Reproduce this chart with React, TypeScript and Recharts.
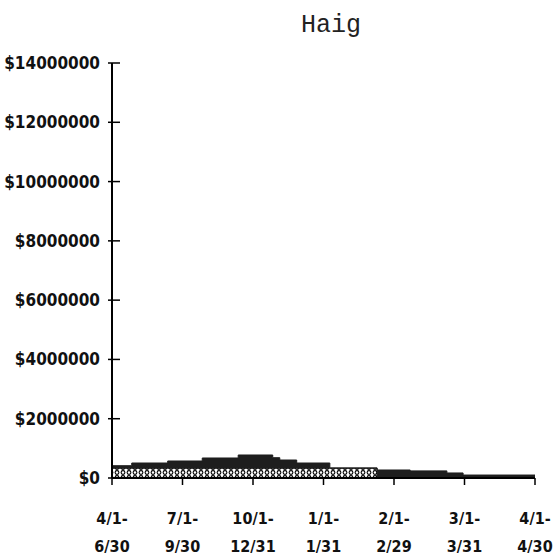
import { AreaChart, Area, XAxis, YAxis } from "recharts";

// step positions along the period axis (0 = 4/1-6/30 ... 6 = 4/1-4/30)
const stepPos = [0, 0.28, 0.79, 1.28, 1.79, 2.28, 2.38, 2.62, 3.09, 3.76, 4.23, 4.75, 4.98, 6];
// lower, dotted series
const dotted = [330000, 330000, 330000, 330000, 330000, 330000, 330000, 330000, 330000, 0, 0, 0, 0, 0];
// upper, dark series
const dark = [85000, 176000, 244000, 345000, 446000, 355000, 277000, 176000, 10000, 270000, 240000, 170000, 100000, 100000];

const periodTop = ["4/1-", "7/1-", "10/1-", "1/1-", "2/1-", "3/1-", "4/1-"];
const periodBottom = ["6/30", "9/30", "12/31", "1/31", "2/29", "3/31", "4/30"];
const yTicks = [0, 2000000, 4000000, 6000000, 8000000, 10000000, 12000000, 14000000];

const data = stepPos.map((x, i) => ({ x, dotted: dotted[i], dark: dark[i] }));

const labelFont = "'DejaVu Sans Condensed', 'DejaVu Sans', sans-serif";

const YTick = (props: any) => {
  const { x, y, payload } = props;
  return (
    <g>
      <line x1={x + 4} x2={x + 16} y1={y} y2={y} stroke="#000" strokeWidth={1.5} />
      <text
        x={x - 4}
        y={y}
        textAnchor="end"
        dominantBaseline="central"
        fontFamily={labelFont}
        fontWeight="bold"
        fontSize={17}
        fill="#111"
      >
        ${payload.value}
      </text>
    </g>
  );
};

const XTick = (props: any) => {
  const { x, y, payload } = props;
  const i = Math.round(payload.value);
  return (
    <g>
      <line x1={x} x2={x} y1={y - 8} y2={y - 1} stroke="#000" strokeWidth={1.5} />
      <text
        x={x}
        y={y + 38}
        textAnchor="middle"
        fontFamily={labelFont}
        fontWeight="bold"
        fontSize={16}
        fill="#111"
      >
        {periodTop[i]}
      </text>
      <text
        x={x}
        y={y + 66}
        textAnchor="middle"
        fontFamily={labelFont}
        fontWeight="bold"
        fontSize={16}
        fill="#111"
      >
        {periodBottom[i]}
      </text>
    </g>
  );
};

export default function App() {
  return (
    <div style={{ position: "absolute", left: 0, top: 0, width: 555, height: 556, background: "#fff" }}>
      <div
        style={{
          position: "absolute",
          left: 0,
          width: 662,
          top: 11,
          textAlign: "center",
          fontFamily: "'Liberation Mono', 'DejaVu Sans Mono', monospace",
          fontSize: 25,
          color: "#222",
        }}
      >
        Haig
      </div>
      <AreaChart
        width={555}
        height={556}
        data={data}
        margin={{ top: 63, right: 20, bottom: 0, left: 0 }}
      >
        <defs>
          <pattern id="dots" width="6" height="5" patternUnits="userSpaceOnUse">
            <rect width="6" height="5" fill="#fff" />
            <circle cx="3" cy="2.5" r="1.9" fill="none" stroke="#000" strokeWidth="1.1" />
          </pattern>
        </defs>
        <XAxis
          dataKey="x"
          type="number"
          domain={[0, 6]}
          ticks={[0, 1, 2, 3, 4, 5, 6]}
          height={78}
          axisLine={{ stroke: "#000", strokeWidth: 2 }}
          tickLine={false}
          tick={<XTick />}
          interval={0}
        />
        <YAxis
          type="number"
          domain={[0, 14000000]}
          ticks={yTicks}
          width={112}
          axisLine={{ stroke: "#000", strokeWidth: 2 }}
          tickLine={false}
          tick={<YTick />}
          interval={0}
        />
        <Area
          type="stepAfter"
          dataKey="dotted"
          stackId="1"
          fill="url(#dots)"
          fillOpacity={1}
          stroke="#000"
          strokeWidth={1}
          isAnimationActive={false}
        />
        <Area
          type="stepAfter"
          dataKey="dark"
          stackId="1"
          fill="#1e1e1e"
          fillOpacity={1}
          stroke="#1e1e1e"
          strokeWidth={1}
          isAnimationActive={false}
        />
      </AreaChart>
    </div>
  );
}
